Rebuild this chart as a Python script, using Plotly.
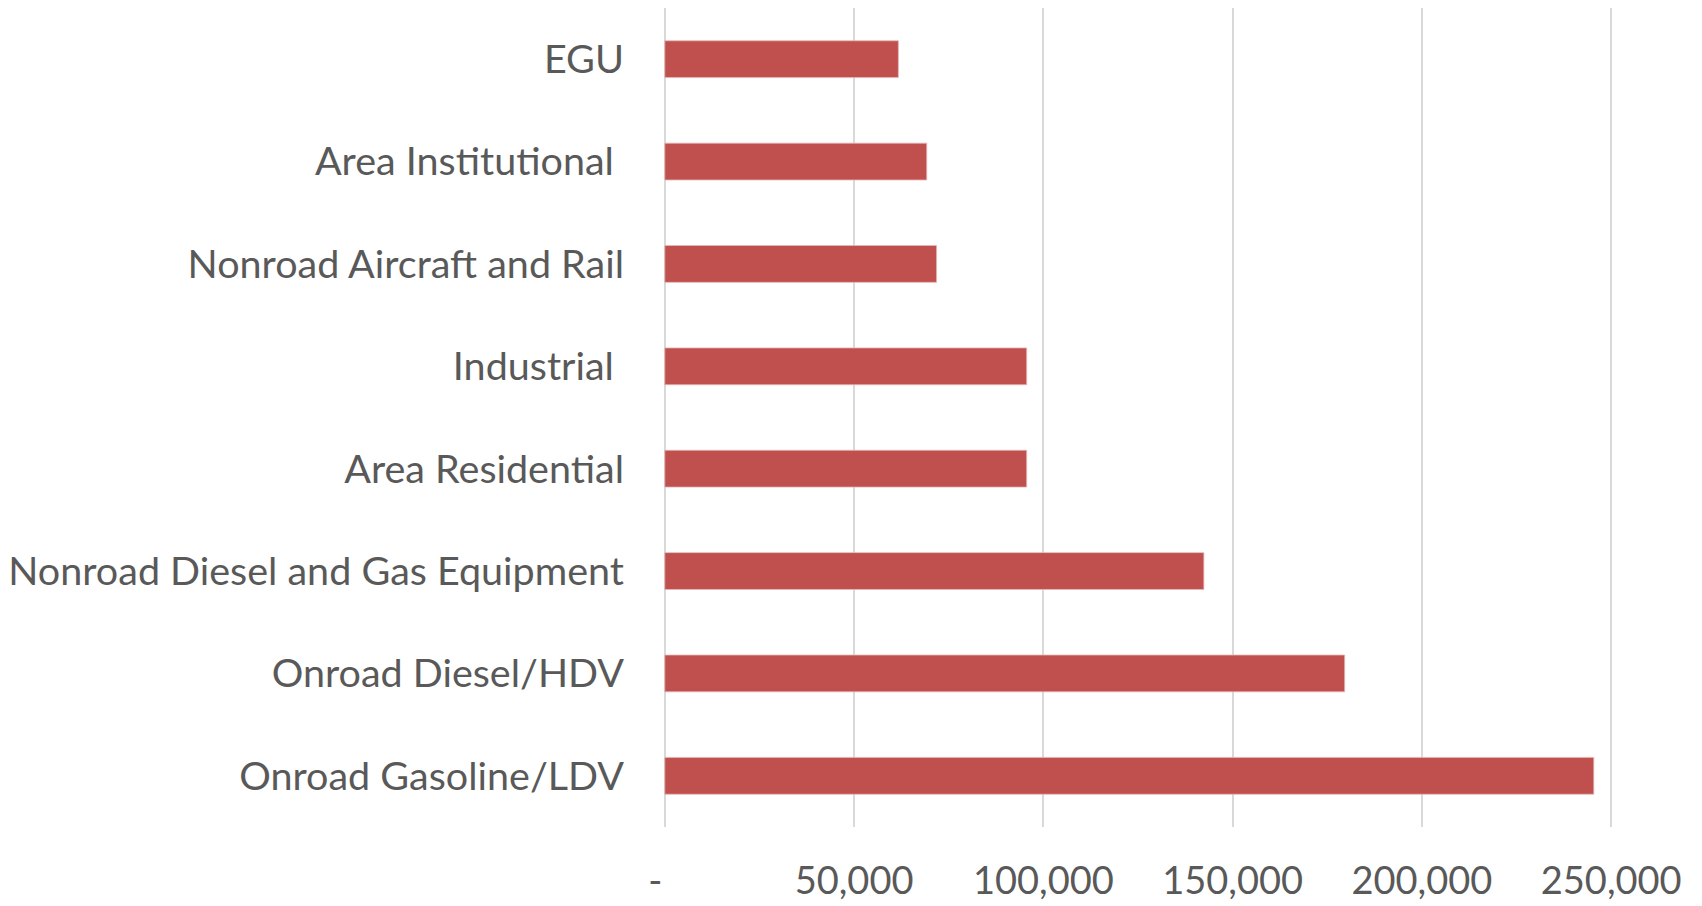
import plotly.graph_objects as go

categories = [
    "Onroad Gasoline/LDV",
    "Onroad Diesel/HDV",
    "Nonroad Diesel and Gas Equipment",
    "Area Residential",
    "Industrial\u00a0",
    "Nonroad Aircraft and Rail",
    "Area Institutional\u00a0",
    "EGU",
]
values = [245400, 179600, 142400, 95600, 95600, 71800, 69200, 61700]

tick_vals = [0, 50000, 100000, 150000, 200000, 250000]
tick_text = ["-\u2002", "50,000", "100,000", "150,000", "200,000", "250,000"]

# page body has an 8px margin; size the figure so it fits the window
W, H = 1694, 898
fig = go.Figure(
    go.Bar(
        y=categories,
        x=values,
        orientation="h",
        marker=dict(color="#C0504D", line=dict(color="#E6B9B8", width=0.8)),
    )
)

fig.update_layout(
    width=W,
    height=H,
    margin=dict(l=653, r=87, t=0, b=79, autoexpand=False),
    paper_bgcolor="white",
    plot_bgcolor="white",
    bargap=0.64,
    showlegend=False,
    font=dict(family="Lato", size=39, color="#595959"),
)
fig.update_xaxes(
    range=[-1000, 251000],
    tickvals=tick_vals,
    ticktext=tick_text,
    showgrid=True,
    gridcolor="#D9D9D9",
    gridwidth=1.5,
    zeroline=False,
    showline=False,
    ticks="",
    automargin=False,
    ticklabelstandoff=28,
    tickfont=dict(size=38, color="#595959"),
)
fig.update_yaxes(
    showgrid=False,
    zeroline=False,
    showline=False,
    ticks="",
    automargin=False,
    ticklabelstandoff=36,
    tickfont=dict(size=39.5, color="#595959"),
)

fig.write_html("out.html")
